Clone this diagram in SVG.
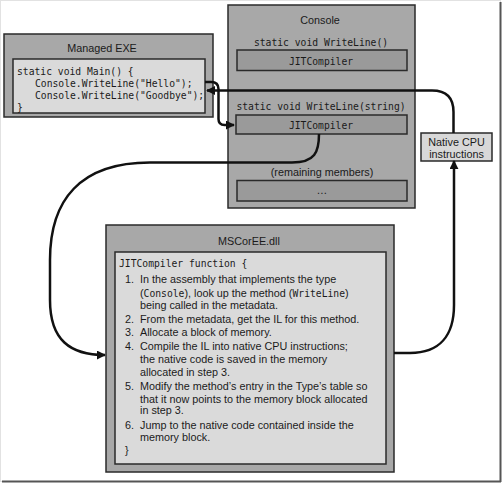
<svg xmlns="http://www.w3.org/2000/svg" width="503" height="484" viewBox="0 0 503 484">
<defs>
<style>
.outer{fill:#a8a8a8;stroke:#2a2a2a;stroke-width:1.5}
.inner{fill:#dadada;stroke:#2a2a2a;stroke-width:1.5}
.jit{fill:#9a9a9a;stroke:#2a2a2a;stroke-width:1.5}
.cpu{fill:#d8d8d8;stroke:#2a2a2a;stroke-width:1.5}
.sans{font-family:"Liberation Sans",Arial,sans-serif;font-size:10.8px;fill:#1a1a1a}
.mono{font-family:"DejaVu Sans Mono","Liberation Mono",monospace;font-size:9.7px;fill:#1a1a1a}
.c{text-anchor:middle}
.conn{fill:none;stroke:#111;stroke-width:2.5}
</style>
<marker id="ah" viewBox="0 0 10 10" refX="9" refY="5" markerWidth="9" markerHeight="9" markerUnits="userSpaceOnUse" orient="auto">
<path d="M0,0 L10,5 L0,10 Z" fill="#111"/>
</marker>
</defs>
<rect width="503" height="484" fill="#fff"/>
<rect x="0.5" y="0.5" width="500" height="481" fill="none" stroke="#e2e2e2" stroke-width="1"/>
<path d="M500.5,2 L500.5,482 M2,481.5 L501,481.5" fill="none" stroke="#555" stroke-width="2"/>

<g id="managed-exe">
<rect class="outer" x="4" y="34" width="209" height="83"/>
<text class="sans c" x="102" y="51.5">Managed EXE</text>
<rect class="inner" x="13" y="59" width="192" height="54"/>
<text class="mono" x="17" y="75">static void Main() {</text>
<text class="mono" x="35" y="86.6">Console.WriteLine("Hello");</text>
<text class="mono" x="35" y="99">Console.WriteLine("Goodbye");</text>
<text class="mono" x="17" y="110.6">}</text>
</g>

<g id="console">
<rect class="outer" x="228" y="5" width="187" height="203"/>
<text class="sans c" x="320" y="24">Console</text>
<text class="mono c" x="321" y="46">static void WriteLine()</text>
<rect class="jit" x="237" y="50" width="170" height="20.5"/>
<text class="mono c" x="321" y="64.5">JITCompiler</text>
<text class="mono c" x="321" y="109.5">static void WriteLine(string)</text>
<rect class="jit" x="236" y="115" width="171" height="19"/>
<text class="mono c" x="321" y="128.5">JITCompiler</text>
<text class="sans c" x="322" y="175.5">(remaining members)</text>
<rect class="jit" x="237" y="180.5" width="170" height="20.5"/>
<text class="sans c" x="322" y="194">…</text>
</g>

<g id="native-cpu">
<rect class="cpu" x="421" y="133" width="71" height="28"/>
<text class="sans c" x="456.5" y="145.5">Native CPU</text>
<text class="sans c" x="456.5" y="158">instructions</text>
</g>

<g id="mscoree">
<rect class="outer" x="106" y="225" width="288" height="247"/>
<text class="sans c" x="249" y="244.5">MSCorEE.dll</text>
<rect class="inner" x="115" y="252" width="271" height="212"/>
<text class="mono" x="119" y="266.5">JITCompiler function {</text>
<text class="sans" x="125" y="283.3">1.</text>
<text class="sans" x="140" y="283.3">In the assembly that implements the type</text>
<text class="sans" x="140" y="296.6">(<tspan class="mono">Console</tspan>), look up the method (<tspan class="mono">WriteLine</tspan>)</text>
<text class="sans" x="140" y="309.3">being called in the metadata.</text>
<text class="sans" x="125" y="323.3">2.</text>
<text class="sans" x="140" y="323.3">From the metadata, get the IL for this method.</text>
<text class="sans" x="125" y="336">3.</text>
<text class="sans" x="140" y="336">Allocate a block of memory.</text>
<text class="sans" x="125" y="350">4.</text>
<text class="sans" x="140" y="350">Compile the IL into native CPU instructions;</text>
<text class="sans" x="140" y="363.3">the native code is saved in the memory</text>
<text class="sans" x="140" y="376">allocated in step 3.</text>
<text class="sans" x="125" y="390">5.</text>
<text class="sans" x="140" y="390">Modify the method’s entry in the Type’s table so</text>
<text class="sans" x="140" y="402.6">that it now points to the memory block allocated</text>
<text class="sans" x="140" y="414">in step 3.</text>
<text class="sans" x="125" y="429.3">6.</text>
<text class="sans" x="140" y="429.3">Jump to the native code contained inside the</text>
<text class="sans" x="140" y="441">memory block.</text>
<text class="sans" x="125" y="454">}</text>
</g>

<g id="connectors">
<path class="conn" d="M205,82 L211,82 Q218.5,82 218.5,89 L218.5,119 Q218.5,125 224.5,125 L234,125" marker-end="url(#ah)"/>
<path class="conn" d="M453.5,133 L453.5,112 Q453.5,90.5 432,90.5 L207,90.5" marker-end="url(#ah)"/>
<path class="conn" d="M319,134 C319,152 315,162.5 292,162.5 L150,162.5 C80,162.5 50,200 50,260 L50,300 C50,340 70,355 105,355" marker-end="url(#ah)"/>
<path class="conn" d="M394,353 L410,353 C440,353 454,335 454,305 L454,161" marker-end="url(#ah)"/>
</g>
</svg>
